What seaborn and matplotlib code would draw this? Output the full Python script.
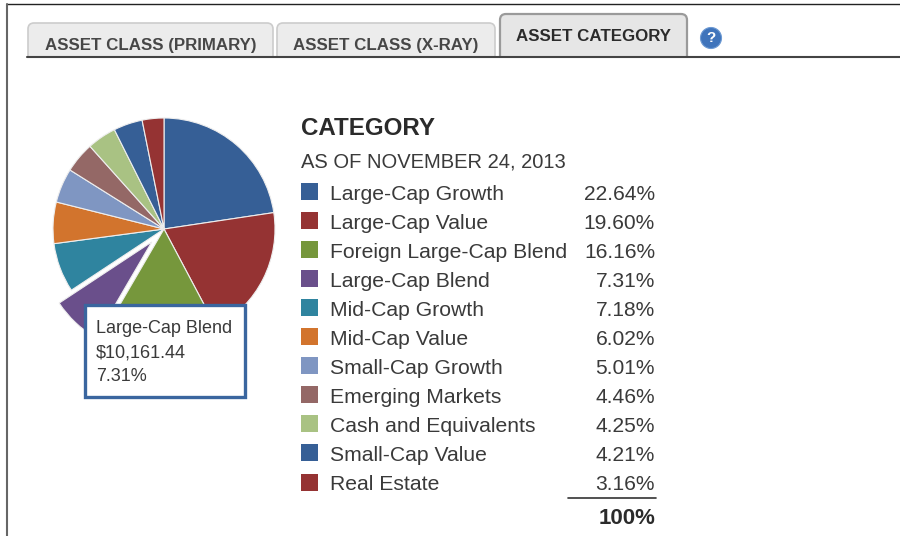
import seaborn as sns
import matplotlib.pyplot as plt
from matplotlib.patches import Circle, FancyBboxPatch, Rectangle

categories = ["Large-Cap Growth", "Large-Cap Value", "Foreign Large-Cap Blend", "Large-Cap Blend",
              "Mid-Cap Growth", "Mid-Cap Value", "Small-Cap Growth", "Emerging Markets",
              "Cash and Equivalents", "Small-Cap Value", "Real Estate"]
percents = [22.64, 19.60, 16.16, 7.31, 7.18, 6.02, 5.01, 4.46, 4.25, 4.21, 3.16]
colors = ["#365f96", "#953333", "#76973c", "#6a4f8b", "#2f849f", "#d2742d",
          "#7f96c2", "#946866", "#a9c283", "#365f96", "#953333"]
tab_labels = ["ASSET CLASS (PRIMARY)", "ASSET CLASS (X-RAY)", "ASSET CATEGORY"]
tooltip_lines = ["Large-Cap Blend", "$10,161.44", "7.31%"]

W, H = 900, 536
TEXT = "#3a3a3a"

sns.set_theme(style="white")
plt.rcParams["font.family"] = ["Liberation Sans", "DejaVu Sans"]

fig = plt.figure(figsize=(W / 100, H / 100), dpi=100, facecolor="white")

# pie goes on its own axes, placed by pixel box
radius = 111
cx, cy = 164, 229
half = radius * 1.3
ax_pie = fig.add_axes([(cx - half) / W, 1 - (cy + half) / H, 2 * half / W, 2 * half / H])
explode = [0.16 if c == "Large-Cap Blend" else 0 for c in categories]
ax_pie.pie(percents, colors=sns.color_palette(colors), explode=explode, startangle=90, counterclock=False,
           wedgeprops={"edgecolor": "#eeeeee", "linewidth": 0.8})
ax_pie.set_xlim(-1.3, 1.3)
ax_pie.set_ylim(-1.3, 1.3)
ax_pie.axis("off")

# everything else in pixel coordinates
ax = fig.add_axes([0, 0, 1, 1], zorder=3)
ax.set_xlim(0, W)
ax.set_ylim(H, 0)
ax.axis("off")
ax.patch.set_alpha(0)

# outer frame
ax.plot([7, 900], [4, 4], color="#222222", lw=1)
ax.plot([7, 7], [4, 536], color="#666666", lw=1.5)

# tabs, bottoms are hidden under the white strip below the rule
tab_x = [(28, 273), (277, 495), (500, 687)]
for i, (label, (x0, x1)) in enumerate(zip(tab_labels, tab_x)):
    active = i == 2
    top = 14 if active else 23
    ax.add_patch(FancyBboxPatch((x0 + 4, top + 4), x1 - x0 - 8, 60 - top, boxstyle="round,pad=4,rounding_size=6",
                                fc="#e6e6e6" if active else "#ececec", ec="#9a9a9a" if active else "#cccccc",
                                lw=1.6 if active else 1.2, zorder=1))
    ax.text((x0 + x1) / 2, 36.5 if active else 45.5, label, ha="center", va="center", fontsize=12.2,
            fontweight="bold", color="#2b2b2b" if active else "#474747", zorder=3)
ax.add_patch(Rectangle((10, 58), W, 14, fc="white", ec="none", zorder=2))
ax.plot([27, 900], [57, 57], color="#444444", lw=1.5, zorder=3)

# help icon
ax.add_patch(Circle((711, 38), 10.5, fc="#3f74bb", ec="#6d9ad3", lw=0.8, zorder=3))
ax.text(711, 38, "?", ha="center", va="center", fontsize=11, fontweight="bold", color="white", zorder=4)

# heading
ax.text(301, 135, "CATEGORY", ha="left", va="baseline", fontsize=17.4, fontweight="bold", color="#2b2b2b")
ax.text(301, 168, "AS OF NOVEMBER 24, 2013", ha="left", va="baseline", fontsize=14.5, color=TEXT)

# legend rows
row_y = 191.5
row_step = 29.05
for i, (name, pct, color) in enumerate(zip(categories, percents, colors)):
    y = row_y + i * row_step
    ax.add_patch(Rectangle((301, y - 8.5), 17, 17, fc=color, ec="none"))
    ax.text(330, y + 8, name, ha="left", va="baseline", fontsize=15.2, color=TEXT)
    ax.text(655, y + 8, f"{pct:.2f}%", ha="right", va="baseline", fontsize=15.1, color=TEXT)

ax.plot([568, 656], [498, 498], color="#333333", lw=1.2)
ax.text(655, 524, "100%", ha="right", va="baseline", fontsize=16, fontweight="bold", color="#2b2b2b")

# tooltip on top of the pie
ax.add_patch(Rectangle((85, 305), 160, 92, fc="white", ec="#3a669f", lw=2.4))
for i, line in enumerate(tooltip_lines):
    ax.text(96, 333 + i * 24, line, ha="left", va="baseline", fontsize=13, color=TEXT)

plt.savefig("out.png", dpi=100)
